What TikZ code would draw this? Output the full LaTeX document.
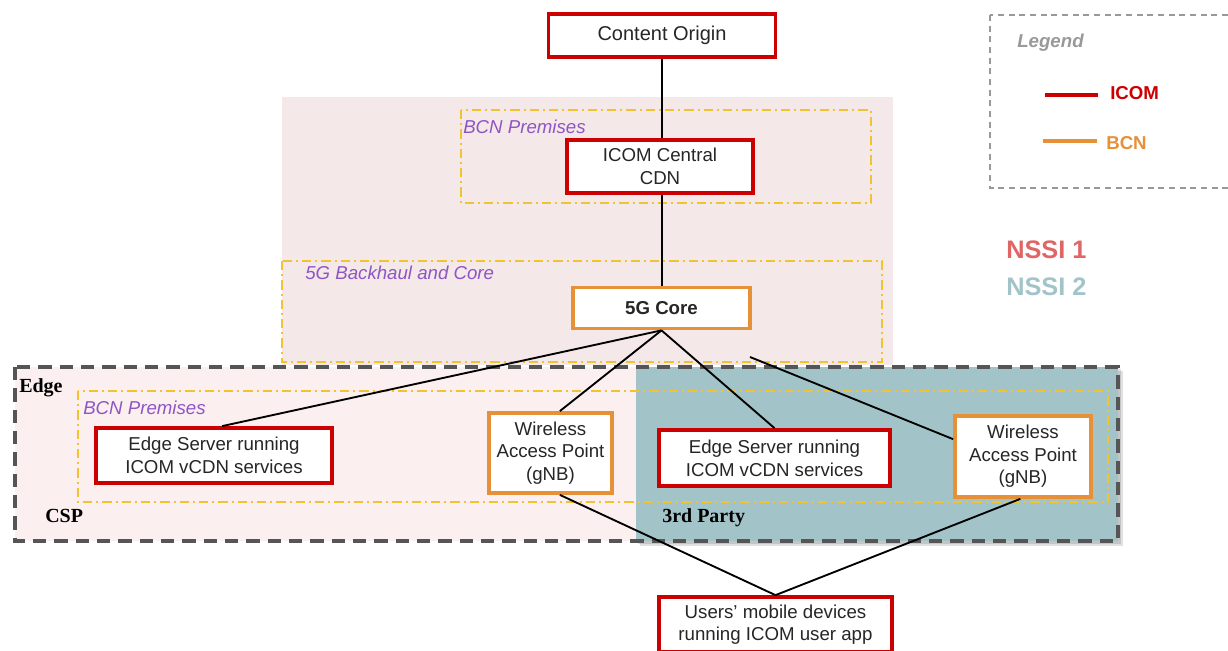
\documentclass[tikz,border=0pt]{standalone}
\usepackage{fontspec}
\setmainfont{Liberation Sans}
\newfontfamily\serifbold{Liberation Serif}
\definecolor{icomred}{HTML}{CC0000}
\definecolor{bcnorange}{HTML}{E69138}
\definecolor{dashyellow}{HTML}{F1C232}
\definecolor{zonepurple}{HTML}{8E55C5}
\definecolor{toppink}{HTML}{F4E8E8}
\definecolor{edgepink}{HTML}{FBEFEF}
\definecolor{teal}{HTML}{A2C4C9}
\definecolor{edgegray}{HTML}{555555}
\definecolor{legendgray}{HTML}{999999}
\definecolor{nssired}{HTML}{E06666}
\definecolor{textdark}{HTML}{262626}
\begin{document}
\begin{tikzpicture}[x=0.75pt,y=-0.75pt,
  boxtext/.style={fill=white, align=center, inner sep=0pt, text=textdark,
    font=\fontsize{14}{17}\selectfont},
  icombox/.style={boxtext, draw=icomred, line width=2.8pt},
  bcnbox/.style={boxtext, draw=bcnorange, line width=2.8pt},
  wh/.style 2 args={minimum width=#1*0.75pt, minimum height=#2*0.75pt},
  zone/.style={draw=dashyellow, line width=1.2pt, dash pattern=on 7pt off 3pt on 1.5pt off 3pt},
  zonelabel/.style={anchor=base west, inner sep=0pt, text=zonepurple,
    font=\fontsize{14}{17}\selectfont\itshape},
  partylabel/.style={anchor=base west, inner sep=0pt, text=black,
    font=\fontsize{15}{18}\selectfont\serifbold\bfseries},
  link/.style={draw=black, line width=1.4pt},
  legendtext/.style={anchor=base west, inner sep=0pt, font=\fontsize{14}{17}\selectfont\bfseries},
  nssi/.style={anchor=base west, inner sep=0pt, font=\fontsize{19}{22}\selectfont\bfseries}
]
\useasboundingbox (0,0) rectangle (1228,650);

% backgrounds
\fill[toppink] (282,97) rectangle (893,365);
\draw[zone] (461,110) rectangle (871,203);
\draw[zone] (282,261) rectangle (882,362);

\fill[edgepink] (15,367) rectangle (636,541);
\fill[black, opacity=0.12] (640,371) rectangle (1123,546);
\fill[black, opacity=0.12] (638,369) rectangle (1121,544);
\fill[teal] (636,367) rectangle (1118,541);
\draw[zone] (78,391) rectangle (1108,502);
\draw[edgegray, line width=2.8pt, dash pattern=on 10pt off 6pt] (15,367) rectangle (1118,541);

% legend box
\draw[legendgray, line width=1pt, dash pattern=on 4.5pt off 3.5pt] (990,15) rectangle (1240,188);

% nodes
\node[icombox, wh={227}{43}, font=\fontsize{15}{18}\selectfont] (origin) at (662,35.5) {Content Origin};
\node[icombox, wh={186}{53}] (central) at (660,166.5) {ICOM Central\\CDN};
\node[bcnbox, wh={177}{41}, font=\fontsize{14}{17}\selectfont\bfseries] (core) at (661.5,308) {5G Core};
\node[icombox, wh={236}{55}] (esl) at (214,455.5) {Edge Server running\\ICOM vCDN services};
\node[bcnbox, wh={123}{80}] (wapl) at (550.5,453) {Wireless\\Access Point\\(gNB)};
\node[icombox, wh={231}{56}] (esr) at (774.5,458) {Edge Server running\\ICOM vCDN services};
\node[bcnbox, wh={136}{81}] (wapr) at (1023,456.5) {Wireless\\Access Point\\(gNB)};
\node[icombox, wh={233}{55}] (users) at (775.5,624.5) {Users' mobile devices\\running ICOM user app};
\coordinate (loose) at (750,357);

% connectors
\draw[link] (origin.south) -- (origin.south |- central.north);
\draw[link] (origin.south |- central.south) -- (origin.south |- core.north);
\draw[link] (core.south) -- ([xshift=6pt]esl.north);
\draw[link] (core.south) -- ([xshift=7pt]wapl.north);
\draw[link] (core.south) -- (esr.north);
\draw[link] (loose) -- ([yshift=13pt]wapr.west);
\draw[link] ([xshift=7pt]wapl.south) -- (users.north);
\draw[link] ([xshift=-2pt]wapr.south) -- (users.north);

% zone labels
\node[zonelabel] (lbcntop) at (463,133) {BCN Premises};
\node[zonelabel] (l5g) at (305,279) {5G Backhaul and Core};
\node[zonelabel] (lbcnbot) at (83,414) {BCN Premises};
\node[partylabel] (ledge) at (19,392) {Edge};
\node[partylabel] (lcsp) at (45,522) {CSP};
\node[partylabel] (lthird) at (662,522) {3rd Party};

% legend
\node[legendtext, text=legendgray, font=\fontsize{14}{17}\selectfont\bfseries\itshape] (lleg) at (1017,47) {Legend};
\coordinate (ra) at (1045,95);
\coordinate (rb) at (1098,95);
\draw[icomred, line width=3pt] (ra) -- (rb);
\node[legendtext, text=icomred] (licom) at (1110,99) {ICOM};
\coordinate (oa) at (1043,141);
\coordinate (ob) at (1097,141);
\draw[bcnorange, line width=3pt] (oa) -- (ob);
\node[legendtext, text=bcnorange] (lbcn) at (1106,149) {BCN};

\node[nssi, text=nssired] (n1) at (1006,258) {NSSI 1};
\node[nssi, text=teal] (n2) at (1006,295) {NSSI 2};
\end{tikzpicture}
\end{document}
